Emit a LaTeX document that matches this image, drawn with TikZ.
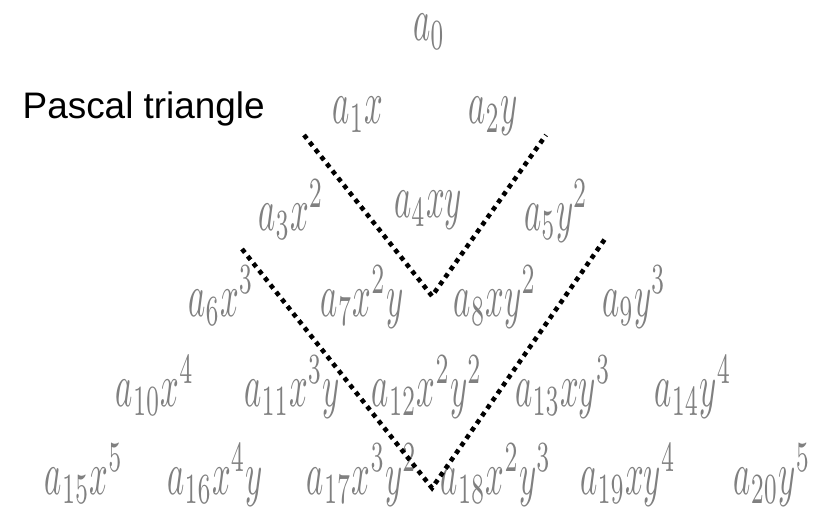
\documentclass[tikz,border=0pt]{standalone}
\usepackage{graphicx}
\usepackage{fontspec}
\newfontfamily\labelfont{Liberation Sans}
\usetikzlibrary{positioning}
\newcommand{\tm}[1]{\scalebox{0.93}[1.75]{$#1$}}

\begin{document}
\begin{tikzpicture}[
  term/.style={anchor=base, inner sep=0pt, text=black!50},
  vline/.style={line width=1.3pt, dash pattern=on 1.3pt off 1.3pt}]
  \useasboundingbox (0,0) rectangle (8.17,5.13);
  \foreach \n/\x/\y/\t in {0/4.29/4.73/{a_0},
      1/3.58/3.90/{a_1x}, 2/4.93/3.90/{a_2y},
      3/2.91/2.83/{a_3x^2}, 4/4.28/2.96/{a_4xy}, 5/5.56/2.83/{a_5y^2},
      6/2.21/1.97/{a_6x^3}, 7/3.62/1.97/{a_7x^2y}, 8/4.95/1.97/{a_8xy^2}, 9/6.34/1.97/{a_9y^3},
      10/1.55/1.07/{a_{10}x^4}, 11/2.92/1.07/{a_{11}x^3y}, 12/4.27/1.07/{a_{12}x^2y^2},
      13/5.63/1.07/{a_{13}xy^3}, 14/6.93/1.07/{a_{14}y^4},
      15/0.84/0.19/{a_{15}x^5}, 16/2.15/0.19/{a_{16}x^4y}, 17/3.62/0.19/{a_{17}x^3y^2},
      18/4.96/0.19/{a_{18}x^2y^3}, 19/6.28/0.19/{a_{19}xy^4}, 20/7.72/0.19/{a_{20}y^5}}{
    \node[term] (t\n) at (\x,\y) {\tm{\t}};
  }
  \node[anchor=base west, inner sep=0pt, font=\labelfont\fontsize{10.5}{12}\selectfont] (title) at (0.22,3.95) {Pascal triangle};
  \coordinate (u1) at (3.04,3.78);
  \coordinate (uv) at (4.32,2.17);
  \coordinate (u2) at (5.46,3.78);
  \coordinate (l1) at (2.42,2.64);
  \coordinate (lv) at (4.32,0.25);
  \coordinate (l2) at (6.07,2.77);
  \draw[vline] (u1) -- (uv) -- (u2);
  \draw[vline] (l1) -- (lv) -- (l2);
\end{tikzpicture}
\end{document}
